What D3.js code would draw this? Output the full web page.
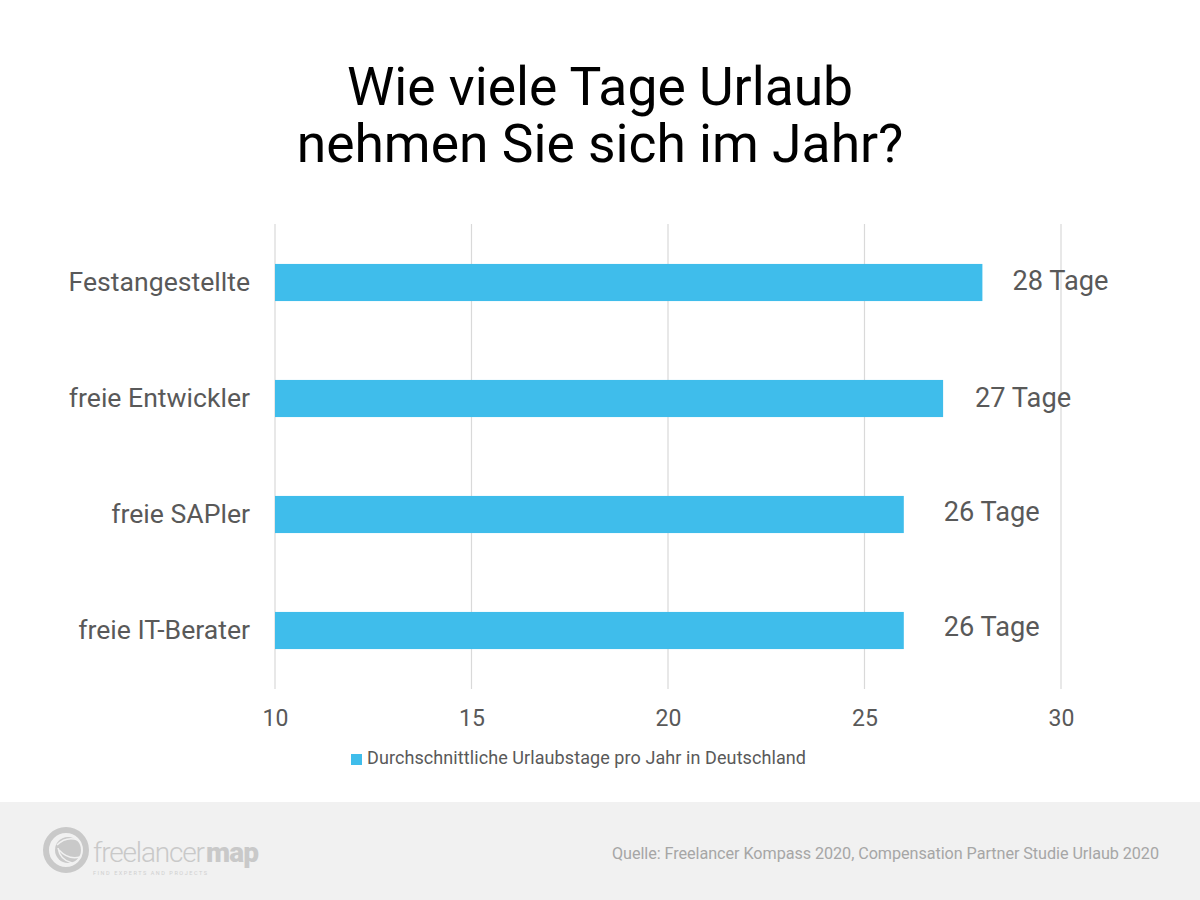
<!DOCTYPE html>
<html>
<head>
<meta charset="utf-8">
<script src="https://cdn.jsdelivr.net/npm/d3@7"></script>
<style>
  html, body { margin: 0; padding: 0; background: #fff; }
  svg { display: block; }
  text { font-family: Roboto, sans-serif; }
</style>
</head>
<body>
<svg></svg>
<script>
// Data
const categories = ["Festangestellte", "freie Entwickler", "freie SAPler", "freie IT-Berater"];
const values = [28, 27, 26, 26];
const valueLabels = ["28 Tage", "27 Tage", "26 Tage", "26 Tage"];
const xTicks = [10, 15, 20, 25, 30];
const titleLines = ["Wie viele Tage Urlaub", "nehmen Sie sich im Jahr?"];
const legendLabel = "Durchschnittliche Urlaubstage pro Jahr in Deutschland";
const sourceLabel = "Quelle: Freelancer Kompass 2020, Compensation Partner Studie Urlaub 2020";

const width = 1200, height = 900;
const blue = "#3fbdeb", grey = "#595959", footerGrey = "#c9c9c9";

const svg = d3.select("svg")
    .attr("width", width)
    .attr("height", height);

// Scales
const xScale = d3.scaleLinear().domain([10, 30]).range([275, 1061]);
const yScale = d3.scaleBand().domain(categories).range([224.5, 688.5]).paddingInner(0.68).paddingOuter(0.34);

// Title
svg.selectAll(".title")
    .data(titleLines)
    .enter()
    .append("text")
    .attr("class", "title")
    .attr("x", 600)
    .attr("y", (d, i) => 105 + i * 57)
    .attr("text-anchor", "middle")
    .attr("font-size", "53.4px")
    .attr("fill", "#000")
    .text(d => d);

// Vertical grid lines
svg.selectAll(".grid")
    .data(xTicks)
    .enter()
    .append("line")
    .attr("class", "grid")
    .attr("x1", d => xScale(d))
    .attr("x2", d => xScale(d))
    .attr("y1", 224)
    .attr("y2", 689)
    .attr("stroke", "#d9d9d9")
    .attr("stroke-width", 1.2);

// Bars
svg.selectAll(".bar")
    .data(categories)
    .enter()
    .append("rect")
    .attr("class", "bar")
    .attr("x", xScale(10))
    .attr("y", d => yScale(d))
    .attr("width", (d, i) => xScale(values[i]) - xScale(10))
    .attr("height", yScale.bandwidth())
    .attr("fill", blue);

// Category labels
const yAxis = svg.append("g")
    .attr("transform", "translate(250, 0)")
    .call(d3.axisLeft(yScale).tickSize(0).tickPadding(0));
yAxis.select(".domain").remove();
yAxis.selectAll("text")
    .attr("font-size", "26.6px")
    .attr("font-family", "Roboto, sans-serif")
    .attr("fill", grey);

// Value labels, the gap to the bar is not the same in every row
const labelGap = [30, 32, 40, 40];
const labelShift = [-2, -1, -3, -4];
svg.selectAll(".value")
    .data(categories)
    .enter()
    .append("text")
    .attr("class", "value")
    .attr("x", (d, i) => xScale(values[i]) + labelGap[i])
    .attr("y", (d, i) => yScale(d) + yScale.bandwidth() / 2 + labelShift[i])
    .attr("dy", "0.35em")
    .attr("font-size", "27.2px")
    .attr("fill", grey)
    .text((d, i) => valueLabels[i]);

// X axis, labels only
const xAxis = svg.append("g")
    .attr("transform", "translate(0, 710)")
    .call(d3.axisBottom(xScale).tickValues(xTicks).tickSize(0).tickPadding(0));
xAxis.select(".domain").remove();
xAxis.selectAll("text")
    .attr("font-size", "23px")
    .attr("font-family", "Roboto, sans-serif")
    .attr("fill", grey);

// Legend
svg.append("rect")
    .attr("x", 351)
    .attr("y", 754)
    .attr("width", 11)
    .attr("height", 11)
    .attr("fill", blue);
svg.append("text")
    .attr("x", 367)
    .attr("y", 764)
    .attr("font-size", "18px")
    .attr("textLength", 439)
    .attr("fill", grey)
    .text(legendLabel);

// Footer
svg.append("rect")
    .attr("x", 0)
    .attr("y", 802)
    .attr("width", width)
    .attr("height", 98)
    .attr("fill", "#f1f1f1");
svg.append("text")
    .attr("x", 612)
    .attr("y", 859)
    .attr("font-size", "16.2px")
    .attr("textLength", 547)
    .attr("fill", "#a6a6a6")
    .text(sourceLabel);

// Logo
const logo = svg.append("g");
logo.append("circle")
    .attr("cx", 66)
    .attr("cy", 850)
    .attr("r", 20)
    .attr("fill", "none")
    .attr("stroke", footerGrey)
    .attr("stroke-width", 6);
logo.append("circle")
    .attr("cx", 68)
    .attr("cy", 850)
    .attr("r", 13)
    .attr("fill", footerGrey);
logo.append("path")
    .attr("d", "M57 845 Q66 836 78 840 M58 848 Q60 860 72 863 M59 850 Q68 860 80 857")
    .attr("fill", "none")
    .attr("stroke", "#f1f1f1")
    .attr("stroke-width", 1.5);
logo.append("text")
    .attr("x", 93)
    .attr("y", 862)
    .attr("font-size", "28px")
    .attr("font-weight", 300)
    .attr("textLength", 112)
    .attr("fill", footerGrey)
    .text("freelancer");
logo.append("text")
    .attr("x", 206)
    .attr("y", 862)
    .attr("font-size", "28px")
    .attr("font-weight", 900)
    .attr("textLength", 53)
    .attr("fill", footerGrey)
    .text("map");
logo.append("text")
    .attr("x", 93)
    .attr("y", 875)
    .attr("font-size", "5.5px")
    .attr("textLength", 114)
    .attr("fill", "#d0d0d0")
    .text("FIND EXPERTS AND PROJECTS");
</script>
</body>
</html>
